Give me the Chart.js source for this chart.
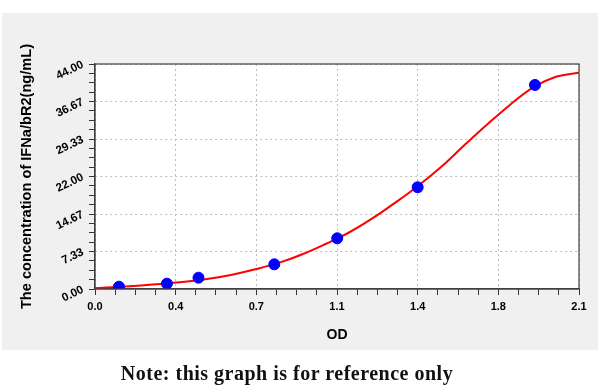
<!DOCTYPE html>
<html>
<head>
<meta charset="utf-8">
<script src="https://cdn.jsdelivr.net/npm/chart.js@4.4.1/dist/chart.umd.min.js"></script>
<style>
  html, body { margin: 0; padding: 0; background: #fff; }
  #wrap { position: relative; width: 600px; height: 391px; }
  #grafico { position: absolute; left: 0; top: 0; }
  #nota {
    position: absolute; left: 0; top: 362px; width: 574px; text-align: center;
    font-family: "Liberation Serif", serif; font-weight: bold; font-size: 20px;
    letter-spacing: 0.5px; color: #111;
  }
</style>
</head>
<body>
<div id="wrap">
  <canvas id="grafico" width="600" height="391"></canvas>
  <div id="nota">Note: this graph is for reference only</div>
</div>
<script>
// pontos padrão (OD x concentração)
const padraoOD = [0.104, 0.312, 0.449, 0.778, 1.051, 1.400, 1.909];
const padraoConc = [0.45, 1.04, 2.21, 4.83, 9.92, 19.9, 39.9];

// curva ajustada
const curvaOD = [0, 0.1, 0.2, 0.3, 0.4, 0.5, 0.6, 0.7, 0.8, 0.9, 1.0, 1.1, 1.2, 1.3, 1.4, 1.5, 1.6, 1.7, 1.8, 1.9, 2.0, 2.1];
const curvaConc = [0.15, 0.4, 0.7, 1.05, 1.45, 2.05, 2.85, 3.9, 5.15, 6.8, 8.8, 11.0, 13.7, 16.8, 20.1, 23.8, 28.0, 32.1, 36.0, 39.4, 41.5, 42.3];

// ticks
const xTicks = [0, 0.35, 0.7, 1.05, 1.4, 1.75, 2.1];
const xTickLabels = ['0.0', '0.4', '0.7', '1.1', '1.4', '1.8', '2.1'];
const yTicks = [0, 44 / 6, 88 / 6, 22, 176 / 6, 220 / 6, 44];
const yTickLabels = ['0.00', '7.33', '14.67', '22.00', '29.33', '36.67', '44.00'];
const subdivisoes = 4;

function montarTicks(valores, rotulos) {
    const lista = [];
    valores.forEach((v, i) => {
        lista.push({ value: v, lbl: rotulos[i] });
        if (i < valores.length - 1) {
            const passo = (valores[i + 1] - v) / subdivisoes;
            for (let k = 1; k < subdivisoes; k++) lista.push({ value: v + passo * k, lbl: '' });
        }
    });
    return lista;
}

const fundo = {
    id: 'fundo',
    beforeDraw(chart) {
        const { ctx, chartArea: a } = chart;
        ctx.save();
        ctx.fillStyle = '#ffffff';
        ctx.fillRect(0, 0, chart.width, chart.height);
        ctx.fillStyle = '#f0f0f0';
        ctx.fillRect(2, 13, 596, 337);
        ctx.fillStyle = '#ffffff';
        ctx.fillRect(a.left, a.top, a.right - a.left, a.bottom - a.top);
        ctx.restore();
    },
    afterDraw(chart) {
        const { ctx, chartArea: a } = chart;
        ctx.save();
        ctx.strokeStyle = '#404040';
        ctx.lineWidth = 1.2;
        ctx.strokeRect(a.left, a.top, a.right - a.left, a.bottom - a.top);
        ctx.restore();
    }
};

const fonteFamilia = '"Liberation Sans", Arial, sans-serif';
const fonteTick = { family: fonteFamilia, size: 11, weight: 'bold' };
const fonteTitulo = { family: fonteFamilia, size: 14, weight: 'bold' };

function corGrade(c) {
    return c.tick && c.tick.lbl ? '#bdbdbd' : 'rgba(0,0,0,0)';
}

new Chart(document.getElementById('grafico'), {
    type: 'scatter',
    data: {
        datasets: [
            {
                label: 'Padrões',
                data: padraoOD.map((x, i) => ({ x: x, y: padraoConc[i] })),
                backgroundColor: '#0000ff',
                borderColor: '#0000ff',
                pointRadius: 5.5,
                showLine: false,
                order: 1
            },
            {
                label: 'Curva',
                type: 'line',
                data: curvaOD.map((x, i) => ({ x: x, y: curvaConc[i] })),
                borderColor: '#ff0000',
                borderWidth: 2,
                pointRadius: 0,
                fill: false,
                tension: 0.4,
                order: 2
            }
        ]
    },
    options: {
        responsive: false,
        animation: false,
        layout: { padding: { left: 0, top: 64, right: 21, bottom: 42 } },
        plugins: { legend: { display: false }, tooltip: { enabled: false } },
        scales: {
            x: {
                type: 'linear',
                min: 0, max: 2.1,
                afterBuildTicks: ax => { ax.ticks = montarTicks(xTicks, xTickLabels); },
                afterFit: ax => { ax.height = 60; },
                ticks: {
                    autoSkip: false, maxRotation: 0, minRotation: 0,
                    padding: 5, color: '#000', font: fonteTick,
                    callback: (v, i, t) => t[i].lbl
                },
                grid: { color: corGrade, tickColor: '#333', tickLength: 6, tickBorderDash: [] },
                border: { color: '#404040', width: 1.2, dash: [2, 3] },
                title: { display: true, text: 'OD', color: '#000', font: fonteTitulo, padding: { top: 0, bottom: 5 } }
            },
            y: {
                type: 'linear',
                min: 0, max: 44,
                afterBuildTicks: ax => { ax.ticks = montarTicks(yTicks, yTickLabels); },
                afterFit: ax => { ax.width = 95; },
                ticks: {
                    autoSkip: false, minRotation: 26, maxRotation: 26,
                    padding: 6, color: '#000', font: { family: fonteFamilia, size: 11.6, weight: 'bold' },
                    callback: (v, i, t) => t[i].lbl
                },
                grid: { color: corGrade, tickColor: '#333', tickLength: 6, tickBorderDash: [] },
                border: { color: '#404040', width: 1.2, dash: [2, 3] },
                title: {
                    display: true, text: 'The concentration of IFNa/bR2(ng/mL)', color: '#000',
                    font: { family: fonteFamilia, size: 14.6, weight: 'bold' },
                    padding: { top: 18, bottom: 0 }
                }
            }
        }
    },
    plugins: [fundo]
});
</script>
</body>
</html>
